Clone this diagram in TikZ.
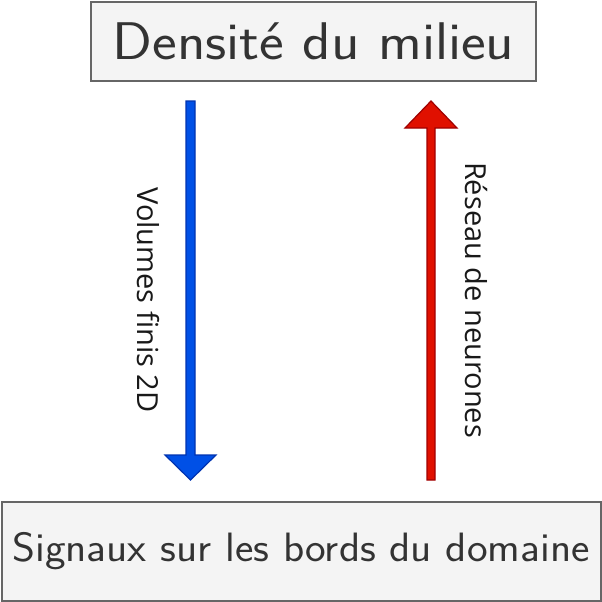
\documentclass[tikz,border=0pt]{standalone}
\usepackage{fontspec}
\setsansfont{Latin Modern Sans}
\newfontfamily\labfont{Open Sans}
\usetikzlibrary{calc}
\definecolor{boxfill}{HTML}{F4F4F4}
\definecolor{boxline}{HTML}{666666}
\definecolor{boxtext}{HTML}{333333}
\definecolor{bluefill}{HTML}{0050E6}
\definecolor{blueline}{HTML}{0033B0}
\definecolor{redfill}{HTML}{E01000}
\definecolor{redline}{HTML}{A00000}
\tikzset{
  boxnode/.style={draw=boxline, fill=boxfill, line width=2pt, inner sep=0pt, text=boxtext, font=\sffamily},
  labelnode/.style={rotate=-90, inner sep=0pt, text=black!90, font=\labfont},
  bluearrow/.style={fill=bluefill, draw=blueline, line width=1.2pt, line join=miter},
  redarrow/.style={fill=redfill, draw=redline, line width=1.2pt, line join=miter}
}
\begin{document}
\begin{tikzpicture}[x=1pt,y=-1pt]
\useasboundingbox (0,0) rectangle (602,602);
\node[boxnode, minimum width=445pt, minimum height=79pt] (top) at (313.5,41.5)
  {\scalebox{1.11}[1]{\fontsize{53}{60}\selectfont Densité du milieu}};
\node[boxnode, minimum width=599pt, minimum height=99pt] (bot) at (301,551)
  {\scalebox{1.07}[1]{\fontsize{41}{50}\selectfont Signaux sur les bords du domaine}};
% blue arrow (down)
\coordinate (b1) at (190.5,101);
\coordinate (b2) at (190.5,480);
\draw[bluearrow] ($(b1)+(-4.5,0)$) -- ($(b1)+(4.5,0)$) -- ($(b2)+(4.5,-25)$) -- ($(b2)+(25.5,-25)$)
  -- (b2) -- ($(b2)+(-25.5,-25)$) -- ($(b2)+(-4.5,-25)$) -- cycle;
% red arrow (up)
\coordinate (r1) at (431,480);
\coordinate (r2) at (431,101);
\draw[redarrow] ($(r1)+(-4,0)$) -- ($(r1)+(4,0)$) -- ($(r2)+(4,27)$) -- ($(r2)+(26,27)$)
  -- (r2) -- ($(r2)+(-26,27)$) -- ($(r2)+(-4,27)$) -- cycle;
\node[labelnode] (lb) at (148,300) {\fontsize{29}{34}\selectfont Volumes finis 2D};
\node[labelnode] (lr) at (476,300) {\fontsize{29}{34}\selectfont Réseau de neurones};
\end{tikzpicture}
\end{document}
